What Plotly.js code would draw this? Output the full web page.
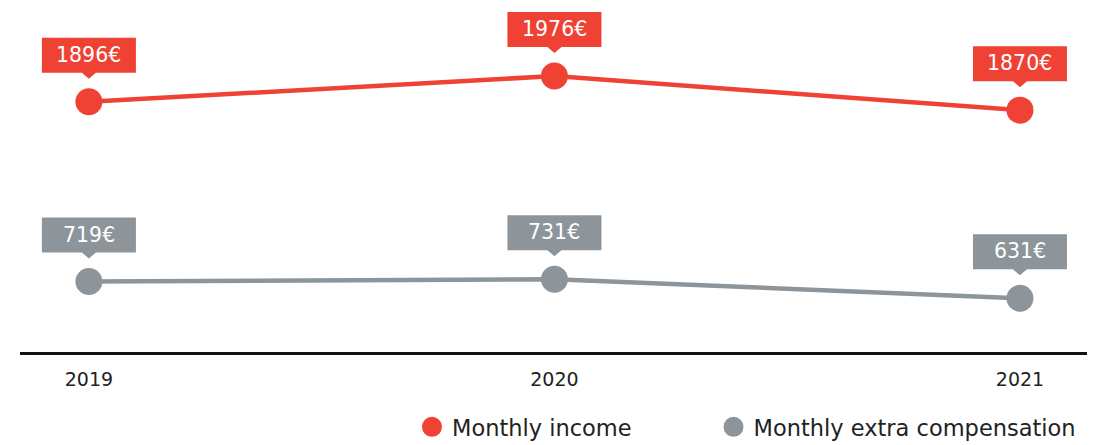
<!DOCTYPE html>
<html>
<head>
<meta charset="utf-8">
<script src="https://cdn.plot.ly/plotly-3.0.1.min.js"></script>
<style>
  html, body { margin: 0; padding: 0; background: #ffffff; }
  #chart { width: 1103px; height: 445px; }
</style>
</head>
<body>
<div id="chart"></div>
<script>
// ---- data ----
const years = [2019, 2020, 2021];
const yearLabels = ['2019', '2020', '2021'];
const monthlyIncome = [1896, 1976, 1870];
const monthlyExtraCompensation = [719, 731, 631];
const seriesNames = ['Monthly income', 'Monthly extra compensation'];

const RED = '#EF4134';
const GRAY = '#8D959A';
const FONT = '"DejaVu Sans", "Open Sans", sans-serif';

// callout bubble (pixel offsets relative to the data point)
const bubblePath = 'M-47,29 L-7,29 L0,23 L7,29 L47,29 L47,64 L-47,64 Z';

function callouts(xs, vals, yref, color) {
  const shapes = [], anns = [];
  xs.forEach((x, i) => {
    shapes.push({
      type: 'path', xref: 'x', yref: yref,
      xsizemode: 'pixel', ysizemode: 'pixel',
      xanchor: x, yanchor: vals[i],
      path: bubblePath,
      fillcolor: color, line: {width: 0}, layer: 'above'
    });
    anns.push({
      x: x, y: vals[i], xref: 'x', yref: yref,
      text: vals[i] + '€', showarrow: false,
      yshift: 47, font: {family: FONT, size: 20.5, color: '#ffffff'}
    });
  });
  return {shapes, anns};
}

const c1 = callouts(years, monthlyIncome, 'y', RED);
const c2 = callouts(years, monthlyExtraCompensation, 'y2', GRAY);

const traces = [
  {x: years, y: monthlyIncome, yaxis: 'y', mode: 'lines+markers', showlegend: false,
   line: {color: RED, width: 4.5}, marker: {color: RED, size: 27}, hoverinfo: 'skip'},
  {x: years, y: monthlyExtraCompensation, yaxis: 'y2', mode: 'lines+markers', showlegend: false,
   line: {color: GRAY, width: 4.5}, marker: {color: GRAY, size: 27}, hoverinfo: 'skip'},
  {x: [null], y: [null], mode: 'markers', name: seriesNames[0], legend: 'legend',
   marker: {color: RED, size: 16, line: {color: RED, width: 4}}},
  {x: [null], y: [null], mode: 'markers', name: seriesNames[1], legend: 'legend2',
   marker: {color: GRAY, size: 16, line: {color: GRAY, width: 4}}}
];

const legendCommon = {
  orientation: 'h', xanchor: 'left', xref: 'container',
  y: 0.04, yanchor: 'middle', yref: 'container',
  font: {family: FONT, size: 22.5, color: '#222222'},
  itemsizing: 'trace', bgcolor: 'rgba(0,0,0,0)'
};

const layout = {
  width: 1103, height: 445,
  margin: {l: 20, r: 16, t: 10, b: 93},
  paper_bgcolor: '#ffffff', plot_bgcolor: '#ffffff',
  font: {family: FONT, color: '#222222'},
  xaxis: {
    range: [2018.852, 2021.144], tickvals: years, ticktext: yearLabels,
    showgrid: false, zeroline: false, showline: true, linecolor: '#111111', linewidth: 2.5,
    ticks: '', ticklabelstandoff: 9, tickfont: {family: FONT, size: 19, color: '#222222'},
    fixedrange: true
  },
  yaxis: {range: [1118.5, 2181.3], visible: false, fixedrange: true},
  yaxis2: {range: [349.9, 2140.5], visible: false, overlaying: 'y', fixedrange: true},
  showlegend: true,
  legend: Object.assign({}, legendCommon, {x: 0.3735}),
  legend2: Object.assign({}, legendCommon, {x: 0.6469}),
  shapes: c1.shapes.concat(c2.shapes),
  annotations: c1.anns.concat(c2.anns)
};

Plotly.newPlot('chart', traces, layout, {displayModeBar: false, staticPlot: true});
</script>
</body>
</html>
